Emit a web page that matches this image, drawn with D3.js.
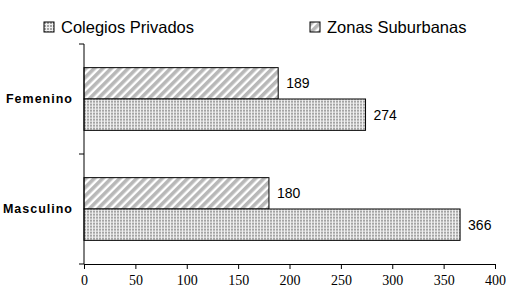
<!DOCTYPE html>
<html>
<head>
<meta charset="utf-8">
<script src="https://cdn.jsdelivr.net/npm/d3@7"></script>
<style>
  body { margin: 0; background: #fff; }
</style>
</head>
<body>
<div id="chart"></div>
<script>
// Data
const categories = ["Femenino", "Masculino"];
const seriesNames = ["Zonas Suburbanas", "Colegios Privados"];
const suburbanas = [189, 180];
const privados = [274, 366];
const xTicks = [0, 50, 100, 150, 200, 250, 300, 350, 400];

const width = 506, height = 299;
const margin = { top: 44, right: 11, bottom: 35, left: 84 };
const innerW = width - margin.left - margin.right;
const innerH = height - margin.top - margin.bottom;

const svg = d3.select("#chart").append("svg")
  .attr("width", width)
  .attr("height", height);

// patterns
const defs = svg.append("defs");
const hatch = defs.append("pattern")
  .attr("id", "hatch")
  .attr("patternUnits", "userSpaceOnUse")
  .attr("width", 6).attr("height", 6)
  .attr("patternTransform", "rotate(45)");
hatch.append("rect").attr("width", 6).attr("height", 6).attr("fill", "#fff");
hatch.append("rect").attr("width", 3.6).attr("height", 6).attr("fill", "#b8b8b8");

const dots = defs.append("pattern")
  .attr("id", "dots")
  .attr("patternUnits", "userSpaceOnUse")
  .attr("width", 3).attr("height", 3);
dots.append("rect").attr("width", 3).attr("height", 3).attr("fill", "#f0f0f0");
dots.append("rect").attr("width", 2).attr("height", 2).attr("fill", "#a4a4a4");

const fills = { "Zonas Suburbanas": "url(#hatch)", "Colegios Privados": "url(#dots)" };

const g = svg.append("g").attr("transform", `translate(${margin.left},${margin.top})`);

const x = d3.scaleLinear().domain([0, 400]).range([0, innerW]);
const y = d3.scaleBand().domain(categories).range([0, innerH]).paddingInner(0.43).paddingOuter(0.215);
const ySub = d3.scaleBand().domain(seriesNames).range([0, y.bandwidth()]);

const rows = categories.map((c, i) => ({
  cat: c,
  vals: [
    { name: "Zonas Suburbanas", value: suburbanas[i] },
    { name: "Colegios Privados", value: privados[i] }
  ]
}));

const grp = g.selectAll(".cat").data(rows).enter().append("g")
  .attr("transform", d => `translate(0,${y(d.cat)})`);

grp.selectAll("rect").data(d => d.vals).enter().append("rect")
  .attr("x", 0)
  .attr("y", d => ySub(d.name))
  .attr("width", d => x(d.value))
  .attr("height", ySub.bandwidth())
  .attr("fill", d => fills[d.name])
  .attr("stroke", "#000")
  .attr("stroke-width", 1);

grp.selectAll(".val").data(d => d.vals).enter().append("text")
  .attr("x", d => x(d.value) + 8)
  .attr("y", d => ySub(d.name) + ySub.bandwidth() / 2)
  .attr("dy", "0.35em")
  .attr("font-family", "Liberation Sans, Arial, sans-serif")
  .attr("font-size", 14)
  .text(d => d.value);

// category labels
g.selectAll(".cl").data(categories).enter().append("text")
  .attr("x", -11)
  .attr("y", d => y(d) + y.bandwidth() / 2)
  .attr("dy", "0.35em")
  .attr("text-anchor", "end")
  .attr("font-family", "Liberation Sans, Arial, sans-serif")
  .attr("font-weight", "bold")
  .attr("font-size", 12.5)
  .attr("letter-spacing", 1)
  .text(d => d);

// left axis: line plus ticks at band boundaries
g.append("line").attr("x1", 0).attr("x2", 0).attr("y1", 0).attr("y2", innerH)
  .attr("stroke", "#000");
const bounds = [0, innerH / 2, innerH];
g.selectAll(".yt").data(bounds).enter().append("line")
  .attr("x1", -5).attr("x2", 0)
  .attr("y1", d => d).attr("y2", d => d)
  .attr("stroke", "#000");

// bottom axis
const xAxis = g.append("g")
  .attr("transform", `translate(0,${innerH})`)
  .call(d3.axisBottom(x).tickValues(xTicks).tickSize(5).tickSizeOuter(0).tickPadding(6));
xAxis.select(".domain").attr("stroke", "#000");
xAxis.selectAll("line").attr("stroke", "#000");
xAxis.selectAll("text")
  .attr("font-family", "Liberation Serif, Times New Roman, serif")
  .attr("font-size", 14)
  .attr("fill", "#000");

// legend
const legend = [
  { name: "Colegios Privados", x: 44 },
  { name: "Zonas Suburbanas", x: 310 }
];
const lg = svg.selectAll(".lg").data(legend).enter().append("g")
  .attr("transform", d => `translate(${d.x},22)`);
lg.append("rect")
  .attr("width", 10).attr("height", 10)
  .attr("fill", d => fills[d.name])
  .attr("stroke", "#000");
lg.append("text")
  .attr("x", 17).attr("y", 5)
  .attr("dy", "0.35em")
  .attr("font-family", "Liberation Sans, Arial, sans-serif")
  .attr("font-size", 16.5)
  .text(d => d.name);
</script>
</body>
</html>
